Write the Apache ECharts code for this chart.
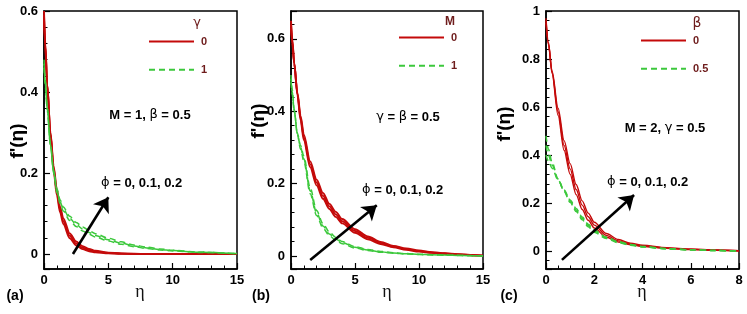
<!DOCTYPE html>
<html><head><meta charset="utf-8">
<script src="https://cdn.jsdelivr.net/npm/echarts/dist/echarts.min.js"></script>
<style>html,body{margin:0;padding:0;background:#fff}#c{width:747px;height:314px}</style>
</head><body><div id="c"></div>
<script>
// ---- Panel (a): gamma = 0 (red) / 1 (green), phi = 0, 0.1, 0.2
const etaA = [0,0.1,0.25,0.5,0.75,1,1.25,1.5,2,2.5,3,3.5,4,5,6,7,8,9,10,12,15];
const aRedPhi0 = [0.60,0.52,0.42,0.295,0.205,0.145,0.103,0.074,0.039,0.021,0.012,0.007,0.004,0.0015,0.0005,0,0,0,0,0,0];
const aRedPhi1 = [0.59,0.515,0.418,0.298,0.211,0.152,0.110,0.081,0.045,0.026,0.0155,0.0095,0.006,0.0025,0.001,0.0004,0,0,0,0,0];
const aRedPhi2 = [0.58,0.51,0.416,0.30,0.217,0.159,0.117,0.088,0.051,0.031,0.0195,0.0125,0.008,0.0035,0.0015,0.0006,0.0002,0,0,0,0];
const aGrnPhi0 = [0.48,0.43,0.365,0.27,0.20,0.152,0.124,0.106,0.083,0.068,0.057,0.049,0.042,0.032,0.024,0.018,0.0135,0.010,0.0075,0.004,0.001];
const aGrnPhi1 = [0.47,0.422,0.36,0.27,0.203,0.157,0.129,0.111,0.088,0.073,0.062,0.053,0.046,0.035,0.027,0.020,0.015,0.011,0.0085,0.0045,0.001];
const aGrnPhi2 = [0.46,0.414,0.355,0.27,0.206,0.162,0.134,0.116,0.093,0.078,0.067,0.058,0.050,0.039,0.030,0.022,0.017,0.0125,0.0095,0.005,0.001];
const aArrow = [[2.25,0.0],[5.0,0.14]];

// ---- Panel (b): M = 0 (red) / 1 (green)
const etaB = [0,0.1,0.25,0.5,0.75,1,1.5,2,2.5,3,3.5,4,5,6,7,8,9,10,11,12,13,14,15];
const bRedPhi0 = [0.65,0.60,0.535,0.445,0.375,0.32,0.245,0.195,0.158,0.130,0.108,0.090,0.064,0.046,0.033,0.024,0.017,0.012,0.0085,0.006,0.004,0.002,0.001];
const bRedPhi1 = [0.64,0.594,0.533,0.448,0.381,0.328,0.253,0.203,0.166,0.137,0.115,0.096,0.069,0.050,0.036,0.026,0.019,0.0135,0.0095,0.0067,0.0045,0.0025,0.001];
const bRedPhi2 = [0.63,0.588,0.531,0.451,0.387,0.336,0.261,0.211,0.174,0.144,0.122,0.102,0.074,0.054,0.039,0.028,0.021,0.015,0.0105,0.0074,0.005,0.0028,0.001];
const bGrnPhi0 = [0.50,0.46,0.405,0.335,0.295,0.262,0.172,0.112,0.077,0.056,0.043,0.034,0.022,0.015,0.0105,0.0075,0.0055,0.004,0.003,0.0022,0.0015,0.0008,0];
const bGrnPhi1 = [0.49,0.453,0.402,0.337,0.300,0.269,0.180,0.119,0.083,0.061,0.047,0.037,0.024,0.0165,0.0115,0.0082,0.006,0.0044,0.0033,0.0024,0.0016,0.0009,0];
const bGrnPhi2 = [0.48,0.446,0.399,0.339,0.305,0.276,0.188,0.126,0.089,0.066,0.051,0.040,0.026,0.018,0.0125,0.009,0.0066,0.0048,0.0036,0.0026,0.0017,0.001,0];
const bArrow = [[1.5,-0.011],[6.7,0.14]];

// ---- Panel (c): beta = 0 (red) / 0.5 (green)
const etaC = [0,0.1,0.25,0.5,0.75,1,1.25,1.5,1.75,2,2.5,3,3.5,4,5,6,7,8];
const cRedPhi0 = [0.97,0.87,0.74,0.565,0.42,0.32,0.235,0.173,0.128,0.096,0.057,0.037,0.026,0.019,0.011,0.006,0.003,0.001];
const cRedPhi1 = [0.96,0.865,0.745,0.58,0.44,0.342,0.256,0.191,0.143,0.108,0.065,0.042,0.029,0.021,0.012,0.007,0.0035,0.001];
const cRedPhi2 = [0.95,0.86,0.75,0.595,0.46,0.364,0.277,0.209,0.158,0.120,0.073,0.048,0.033,0.024,0.014,0.008,0.004,0.001];
const cGrnPhi0 = [0.48,0.425,0.37,0.30,0.248,0.203,0.165,0.130,0.101,0.078,0.052,0.034,0.024,0.017,0.009,0.0045,0.002,0];
const cGrnPhi1 = [0.44,0.40,0.358,0.298,0.251,0.208,0.171,0.136,0.106,0.083,0.055,0.037,0.026,0.018,0.0095,0.005,0.002,0];
const cGrnPhi2 = [0.40,0.375,0.345,0.296,0.254,0.213,0.177,0.142,0.111,0.087,0.058,0.039,0.027,0.019,0.010,0.005,0.002,0];
const cArrow = [[0.66,-0.037],[3.65,0.233]];

const xTicksA = [0,5,10,15], xTicksB = [0,5,10,15], xTicksC = [0,2,4,6,8];
const legendA = {title:'γ', red:'0', green:'1'};
const legendB = {title:'M', red:'0', green:'1'};
const legendC = {title:'β', red:'0', green:'0.5'};
const xName = 'η', yName = "f'(η)";

const RED = '#c40a0a', GREEN = '#3cc83c', FONT = 'Liberation Sans, Arial, sans-serif';
const pairs = (xs, ys) => xs.map((x,i)=>[x, ys[i]]);

const grids = [
  {left:44, top:11, width:193, height:258},
  {left:291, top:11, width:192, height:258},
  {left:546, top:11, width:193, height:258}
].map(g => Object.assign({show:true, borderColor:'#000', borderWidth:1.5, backgroundColor:'transparent', outerBoundsMode:'none', containLabel:false}, g));

function xAxis(i, max, interval, minorSplit){
  return {gridIndex:i, type:'value', min:0, max:max, interval:interval,
    axisLine:{show:true, onZero:false, lineStyle:{color:'#000', width:1.5}},
    axisTick:{show:true, inside:true, length:6, lineStyle:{color:'#000', width:1.2}},
    minorTick:{show:true, splitNumber:minorSplit, length:3.5, lineStyle:{color:'#000', width:1}},
    splitLine:{show:false},
    axisLabel:{margin:5, color:'#000', fontFamily:FONT, fontWeight:'bold', fontSize:13}};
}
function yAxis(i, min, max, split){
  return {gridIndex:i, type:'value', min:min, max:max, splitNumber:split,
    axisLine:{show:true, onZero:false, lineStyle:{color:'#000', width:1.5}},
    axisTick:{show:true, inside:true, length:6, lineStyle:{color:'#000', width:1.2}},
    minorTick:{show:true, splitNumber:5, length:3.5, lineStyle:{color:'#000', width:1}},
    splitLine:{show:false},
    axisLabel:{margin:6, color:'#000', fontFamily:FONT, fontWeight:'bold', fontSize:13, showMinLabel:false,
      formatter: v => { const r = Math.round(v/0.2)*0.2; if (Math.abs(v-r) > 1e-6) return ''; return String(parseFloat(r.toFixed(1))); }}};
}

function redSeries(i, name, xs, ys, width, arrow){
  const s = {type:'line', name:name, xAxisIndex:i, yAxisIndex:i, data:pairs(xs, ys), symbol:'none',
    smooth:0.3, smoothMonotone:'x', lineStyle:{color:RED, width:width}, itemStyle:{color:RED}, z:2, animation:false};
  if (arrow) {
    s.markLine = {silent:true, symbol:['none','arrow'], symbolSize:14, animation:false,
      label:{show:false}, lineStyle:{color:'#000', width:2.6, type:'solid'}, itemStyle:{color:'#000'},
      emphasis:{disabled:true},
      data:[[{coord:arrow[0], symbol:'none'},{coord:arrow[1], symbol:'arrow', symbolSize:14}]]};
  }
  return s;
}
function greenSeries(i, name, xs, ys){
  return {type:'line', name:name, xAxisIndex:i, yAxisIndex:i, data:pairs(xs, ys), symbol:'none',
    smooth:0.3, smoothMonotone:'x', lineStyle:{color:GREEN, width:1.5, type:[6,4]}, itemStyle:{color:GREEN}, z:3, animation:false};
}

const series = [
  redSeries(0,'a0',etaA,aRedPhi0,1.9,aArrow), redSeries(0,'a0',etaA,aRedPhi1,1.9), redSeries(0,'a0',etaA,aRedPhi2,1.9),
  greenSeries(0,'a1',etaA,aGrnPhi0), greenSeries(0,'a1',etaA,aGrnPhi1), greenSeries(0,'a1',etaA,aGrnPhi2),
  redSeries(1,'b0',etaB,bRedPhi0,1.9,bArrow), redSeries(1,'b0',etaB,bRedPhi1,1.9), redSeries(1,'b0',etaB,bRedPhi2,1.9),
  greenSeries(1,'b1',etaB,bGrnPhi0), greenSeries(1,'b1',etaB,bGrnPhi1), greenSeries(1,'b1',etaB,bGrnPhi2),
  redSeries(2,'c0',etaC,cRedPhi0,1.4,cArrow), redSeries(2,'c0',etaC,cRedPhi1,1.4), redSeries(2,'c0',etaC,cRedPhi2,1.4),
  greenSeries(2,'c1',etaC,cGrnPhi0), greenSeries(2,'c1',etaC,cGrnPhi1), greenSeries(2,'c1',etaC,cGrnPhi2)
];

const LEG_COLOR = '#6e1c1c';
function legend(left, top, names, texts){
  return {left:left, top:top, orient:'vertical', itemWidth:45, itemHeight:14, itemGap:17, padding:0,
    data:names, selectedMode:false, formatter: n => texts[names.indexOf(n)],
    itemStyle:{opacity:0},
    textStyle:{fontFamily:FONT, fontWeight:'bold', fontSize:11, color:LEG_COLOR, padding:[0,0,0,2]}};
}

const rich = {
  b:{fontFamily:FONT, fontWeight:'bold', fontSize:13, color:'#000'},
  g:{fontFamily:'DejaVu Sans, sans-serif', fontSize:13, color:'#222'}
};
function gtext(x, y, text, opts, rot){
  return {type:'text', x:x, y:y, rotation:rot||0, style:Object.assign({text:text, fontFamily:FONT, fontSize:13, fontWeight:'bold', fill:'#000', textAlign:'center', textVerticalAlign:'middle'}, opts||{})};
}
const yNameStyle = {fontSize:19, fontWeight:'bold'};
const xNameStyle = {fontFamily:'Liberation Serif, serif', fontSize:18, fontWeight:'normal', fill:'#111'};

const graphic = [
  gtext(15, 296, '(a)', {fontSize:14}), gtext(261, 296, '(b)', {fontSize:14}), gtext(509, 296, '(c)', {fontSize:14}),
  gtext(18, 141, yName, yNameStyle, Math.PI/2), gtext(259, 121, yName, yNameStyle, Math.PI/2), gtext(505, 124, yName, yNameStyle, Math.PI/2),
  gtext(140, 292, xName, xNameStyle), gtext(387, 292, xName, xNameStyle), gtext(642, 292, xName, xNameStyle),
  gtext(197, 23, legendA.title, {fontFamily:'DejaVu Sans, sans-serif', fontWeight:'normal', fill:LEG_COLOR, fontSize:13}),
  gtext(450, 22, legendB.title, {fill:LEG_COLOR, fontSize:12}),
  gtext(697, 23, legendC.title, {fontFamily:'DejaVu Sans, sans-serif', fontWeight:'normal', fill:LEG_COLOR, fontSize:14}),
  {type:'text', x:150, y:115, style:{text:'{b|M = 1, }{g|β}{b| = 0.5}', rich:rich, textAlign:'center', textVerticalAlign:'middle'}},
  {type:'text', x:408, y:117, style:{text:'{g|γ}{b| = }{g|β}{b| = 0.5}', rich:rich, textAlign:'center', textVerticalAlign:'middle'}},
  {type:'text', x:665, y:128, style:{text:'{b|M = 2, }{g|γ}{b| = 0.5}', rich:rich, textAlign:'center', textVerticalAlign:'middle'}},
  {type:'text', x:101, y:183, style:{text:'{g|ϕ}{b| = 0, 0.1, 0.2}', rich:rich, textAlign:'left', textVerticalAlign:'middle'}},
  {type:'text', x:362, y:190, style:{text:'{g|ϕ}{b| = 0, 0.1, 0.2}', rich:rich, textAlign:'left', textVerticalAlign:'middle'}},
  {type:'text', x:607, y:182, style:{text:'{g|ϕ}{b| = 0, 0.1, 0.2}', rich:rich, textAlign:'left', textVerticalAlign:'middle'}}
];

const chart = echarts.init(document.getElementById('c'), null, {renderer:'canvas'});
chart.setOption({
  backgroundColor:'#fff',
  animation:false,
  grid: grids,
  xAxis: [xAxis(0, xTicksA[xTicksA.length-1], 5, 5), xAxis(1, xTicksB[xTicksB.length-1], 5, 5), xAxis(2, xTicksC[xTicksC.length-1], 2, 4)],
  yAxis: [yAxis(0, -0.037, 0.6, 3), yAxis(1, -0.036, 0.677, 3), yAxis(2, -0.075, 1.0, 5)],
  legend: [
    legend(148, 36, ['a0','a1'], [legendA.red, legendA.green]),
    legend(398, 32, ['b0','b1'], [legendB.red, legendB.green]),
    legend(640, 35, ['c0','c1'], [legendC.red, legendC.green])
  ],
  graphic: graphic,
  series: series
});
</script></body></html>
